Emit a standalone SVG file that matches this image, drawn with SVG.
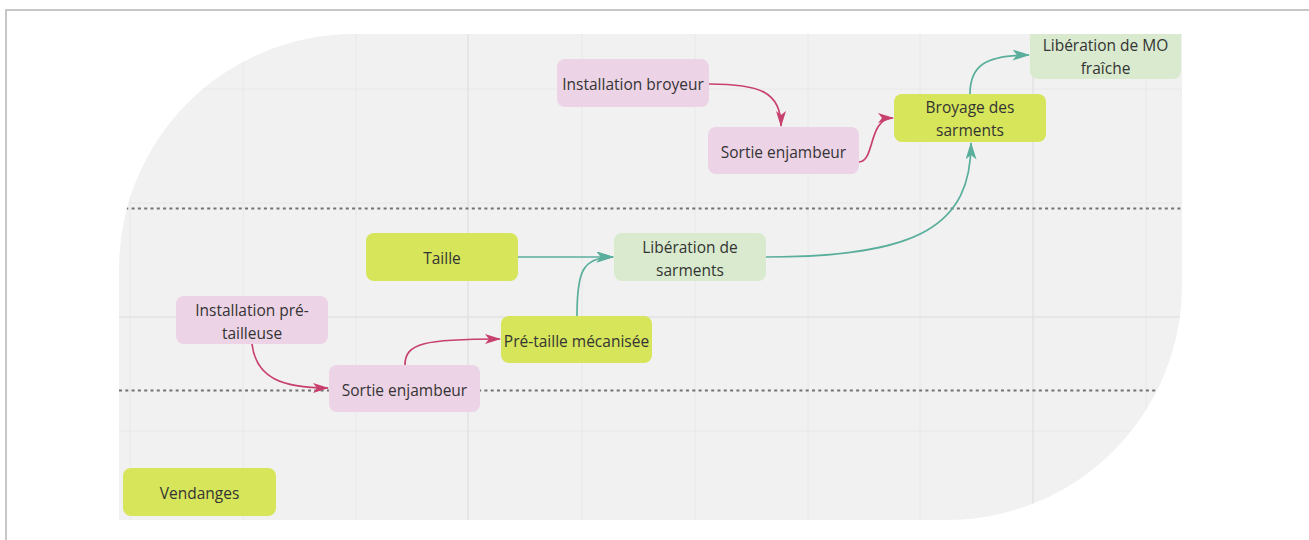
<svg xmlns="http://www.w3.org/2000/svg" width="1309" height="540" viewBox="0 0 1309 540">
  <style>
    .frame { fill: none; stroke: #b5b5b5; stroke-width: 1.5; }
    .board { fill: #f1f1f1; }
    .grid { stroke: #e8e8e8; stroke-width: 1; }
    .grid-major { stroke: #e2e2e2; stroke-width: 1.5; }
    .lane { stroke: #737373; stroke-width: 1.8; stroke-dasharray: 3 3.3; fill: none; }
    .node rect, .node path { stroke: none; }
    .machine { fill: #ecd3e6; }
    .action { fill: #d6e55a; }
    .result { fill: #d9eacf; }
    .label { font-family: "Open Sans", "Noto Sans", sans-serif; font-size: 15.5px; fill: #343434; text-anchor: middle; dominant-baseline: central; }
    .pink { fill: none; stroke: #c8406e; stroke-width: 1.7; }
    .teal { fill: none; stroke: #5aae9c; stroke-width: 1.7; }
  </style>
  <defs>
    <marker id="arrow-pink" viewBox="0 0 16 10" refX="15" refY="5" markerWidth="17" markerHeight="10" markerUnits="userSpaceOnUse" orient="auto">
      <path d="M0,0 L16,5 L0,10 L4,5 Z" fill="#c8406e"/>
    </marker>
    <marker id="arrow-teal" viewBox="0 0 16 10" refX="15" refY="5" markerWidth="19" markerHeight="11" markerUnits="userSpaceOnUse" orient="auto">
      <path d="M0,0 L16,5 L0,10 L4,5 Z" fill="#5aae9c"/>
    </marker>
    <clipPath id="board-clip">
      <path d="M354,34 H1182 V285 A235,235 0 0 1 947,520 H119 V269 A235,235 0 0 1 354,34 Z"/>
    </clipPath>
  </defs>

  <rect width="1309" height="540" fill="#ffffff"/>
  <!-- outer frame: only top and left edges are in view -->
  <path class="frame" d="M6,540 V10 H1309"/>

  <!-- board background with grid and swimlane separators -->
  <g id="board" clip-path="url(#board-clip)">
    <rect class="board" x="110" y="30" width="1080" height="495"/>
    <g class="grid">
      <line x1="130" y1="30" x2="130" y2="525"/>
      <line x1="243" y1="30" x2="243" y2="525"/>
      <line x1="356" y1="30" x2="356" y2="525"/>
      <line x1="582" y1="30" x2="582" y2="525"/>
      <line x1="695" y1="30" x2="695" y2="525"/>
      <line x1="808" y1="30" x2="808" y2="525"/>
      <line x1="920" y1="30" x2="920" y2="525"/>
      <line x1="1146" y1="30" x2="1146" y2="525"/>
      <line x1="110" y1="89" x2="1190" y2="89"/>
      <line x1="110" y1="203" x2="1190" y2="203"/>
      <line x1="110" y1="431" x2="1190" y2="431"/>
    </g>
    <g class="grid-major">
      <line x1="468" y1="30" x2="468" y2="525"/>
      <line x1="1033" y1="30" x2="1033" y2="525"/>
      <line x1="110" y1="317" x2="1190" y2="317"/>
    </g>
    <line class="lane" x1="119" y1="208.5" x2="1182" y2="208.5"/>
    <line class="lane" x1="119" y1="390.5" x2="1182" y2="390.5"/>
  </g>

  <!-- connectors -->
  <g id="connectors">
    <path class="pink" d="M709,84 C760,84 781,92 781,126" marker-end="url(#arrow-pink)"/>
    <path class="pink" d="M859,162 C875,162 868,118 893,118" marker-end="url(#arrow-pink)"/>
    <path class="pink" d="M252,344 C256,378 282,388 328,388" marker-end="url(#arrow-pink)"/>
    <path class="pink" d="M405,365 C405,343 425,339 500,339" marker-end="url(#arrow-pink)"/>
    <path class="teal" d="M518,257 H613" marker-end="url(#arrow-teal)"/>
    <path class="teal" d="M577,316 C577,272 582,257 613,257" marker-end="url(#arrow-teal)"/>
    <path class="teal" d="M766,257 C920,257 971,225 971,143" marker-end="url(#arrow-teal)"/>
    <path class="teal" d="M970,94 C970,66 985,55 1029,55" marker-end="url(#arrow-teal)"/>
  </g>

  <!-- nodes -->
  <g id="node-installation-broyeur" class="node">
    <rect class="machine" x="557" y="59" width="152" height="48" rx="8"/>
    <text class="label" x="633" y="84">Installation broyeur</text>
  </g>
  <g id="node-sortie-enjambeur-haut" class="node">
    <rect class="machine" x="708" y="127" width="151" height="47" rx="8"/>
    <text class="label" x="783.5" y="152">Sortie enjambeur</text>
  </g>
  <g id="node-broyage" class="node">
    <rect class="action" x="894" y="94" width="152" height="48" rx="8"/>
    <text class="label" x="970" y="107">Broyage des</text>
    <text class="label" x="970" y="130">sarments</text>
  </g>
  <g id="node-liberation-mo" class="node">
    <path class="result" d="M1030,34 H1181 V71 A8,8 0 0 1 1173,79 H1038 A8,8 0 0 1 1030,71 Z"/>
    <text class="label" x="1105.5" y="45">Libération de MO</text>
    <text class="label" x="1105.5" y="68">fraîche</text>
  </g>
  <g id="node-taille" class="node">
    <rect class="action" x="366" y="233" width="152" height="48" rx="8"/>
    <text class="label" x="442" y="258">Taille</text>
  </g>
  <g id="node-liberation-sarments" class="node">
    <rect class="result" x="614" y="233" width="152" height="48" rx="8"/>
    <text class="label" x="690" y="247">Libération de</text>
    <text class="label" x="690" y="270">sarments</text>
  </g>
  <g id="node-installation-pretailleuse" class="node">
    <rect class="machine" x="176" y="296" width="152" height="48" rx="8"/>
    <text class="label" x="252" y="310">Installation pré-</text>
    <text class="label" x="252" y="333">tailleuse</text>
  </g>
  <g id="node-pretaille" class="node">
    <rect class="action" x="501" y="316" width="151" height="47" rx="8"/>
    <text class="label" x="576.5" y="341">Pré-taille mécanisée</text>
  </g>
  <g id="node-sortie-enjambeur-bas" class="node">
    <rect class="machine" x="329" y="365" width="151" height="47" rx="8"/>
    <text class="label" x="404.5" y="390">Sortie enjambeur</text>
  </g>
  <g id="node-vendanges" class="node">
    <rect class="action" x="123" y="468" width="153" height="48" rx="8"/>
    <text class="label" x="199.5" y="493">Vendanges</text>
  </g>
</svg>
